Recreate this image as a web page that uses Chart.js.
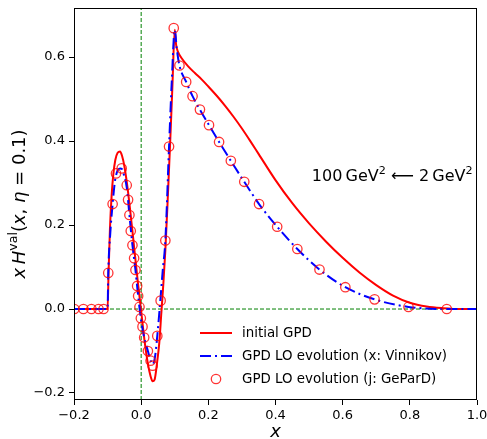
<!DOCTYPE html>
<html>
<head>
<meta charset="utf-8">
<script src="https://cdn.jsdelivr.net/npm/chart.js@4.4.1/dist/chart.umd.min.js"></script>
<style>
  html, body { margin: 0; padding: 0; background: #fff; }
  #wrap { width: 487px; height: 439px; }
</style>
</head>
<body>
<div id="wrap"><canvas id="chart" width="487" height="439"></canvas></div>
<script>
// axis limits and ticks
const xRange = [-0.2, 1.0];
const yRange = [-0.2167, 0.717];
const xTicks = [-0.2, 0.0, 0.2, 0.4, 0.6, 0.8, 1.0];
const yTicks = [-0.2, 0.0, 0.2, 0.4, 0.6];

// initial GPD (red, solid)
const initX = [-0.2, -0.1, -0.097, -0.093, -0.088, -0.083, -0.077, -0.07, -0.063, -0.057, -0.05, -0.04, -0.03,
  -0.02, -0.01, 0.0, 0.01, 0.02, 0.028, 0.034, 0.04, 0.047, 0.054, 0.06, 0.066, 0.072, 0.079, 0.086, 0.093,
  0.1, 0.104, 0.11, 0.12, 0.14, 0.16, 0.18, 0.2, 0.225, 0.25, 0.275, 0.3, 0.325, 0.35, 0.4, 0.45, 0.5, 0.55,
  0.6, 0.65, 0.7, 0.75, 0.8, 0.85, 0.9, 0.95, 1.0];
const initY = [0, 0, 0.09, 0.19, 0.27, 0.32, 0.355, 0.372, 0.375, 0.365, 0.34, 0.285, 0.215,
  0.14, 0.065, -0.005, -0.075, -0.13, -0.16, -0.172, -0.168, -0.13, -0.08, -0.01, 0.06, 0.14, 0.26, 0.39, 0.53,
  0.665, 0.63, 0.612, 0.598, 0.578, 0.562, 0.547, 0.53, 0.508, 0.484, 0.458, 0.43, 0.4, 0.369, 0.307, 0.252, 0.204, 0.161,
  0.122, 0.087, 0.057, 0.032, 0.015, 0.006, 0.002, 0.0, 0.0];

// LO evolution, x-space (blue, dash-dot)
const vinX = [-0.2, -0.1, -0.098, -0.092, -0.085, -0.078, -0.07, -0.063, -0.057, -0.05, -0.043, -0.035, -0.026,
  -0.017, -0.009, -0.001, 0.009, 0.02, 0.028, 0.034, 0.041, 0.048, 0.057, 0.064, 0.072, 0.083, 0.091, 0.1,
  0.106, 0.114, 0.134, 0.153, 0.175, 0.202, 0.232, 0.267, 0.307, 0.351, 0.405, 0.465, 0.531, 0.608, 0.695,
  0.796, 0.91, 1.0];
const vinY = [0, 0, 0.086, 0.18, 0.25, 0.305, 0.33, 0.335, 0.333, 0.315, 0.29, 0.224, 0.152,
  0.093, 0.031, -0.022, -0.068, -0.1, -0.123, -0.132, -0.115, -0.064, 0.02, 0.09, 0.163, 0.387, 0.54, 0.665,
  0.62, 0.58, 0.541, 0.507, 0.475, 0.438, 0.398, 0.353, 0.303, 0.25, 0.196, 0.143, 0.094, 0.052, 0.023,
  0.005, 0.0, 0.0];

// LO evolution, j-space (open circles)
const gepX = [-0.199, -0.172, -0.148, -0.127, -0.112, -0.098, -0.085, -0.075, -0.058, -0.043, -0.039, -0.035,
  -0.031, -0.026, -0.021, -0.017, -0.012, -0.009, -0.005, -0.001, 0.004, 0.009, 0.02, 0.028, 0.034, 0.048,
  0.058, 0.072, 0.083, 0.097, 0.114, 0.134, 0.153, 0.175, 0.202, 0.232, 0.267, 0.307, 0.351, 0.405, 0.465,
  0.531, 0.608, 0.695, 0.796, 0.91];
const gepY = [0, 0, 0, 0, 0, 0.086, 0.25, 0.323, 0.335, 0.295, 0.26, 0.224,
  0.186, 0.152, 0.121, 0.093, 0.055, 0.031, 0.005, -0.022, -0.042, -0.068, -0.1, -0.123, -0.135, -0.064,
  0.02, 0.163, 0.387, 0.669, 0.58, 0.541, 0.507, 0.475, 0.438, 0.398, 0.353, 0.303, 0.25, 0.196, 0.143,
  0.094, 0.052, 0.023, 0.005, 0.0];

const labels = ['initial GPD', 'GPD LO evolution (x: Vinnikov)', 'GPD LO evolution (j: GeParD)'];
const noteAt = { x: 0.987, y: 0.305 }; // right end / baseline of the scale annotation

const FONT = "'DejaVu Sans', sans-serif";
const pts = (xs, ys) => xs.map((v, i) => ({ x: v, y: ys[i] }));

// draw text made of pieces: {t, i: italic, s: superscript}
function richWidth(ctx, parts, size) {
  let w = 0;
  parts.forEach((p) => {
    const sz = p.s ? size * 0.7 : size;
    ctx.font = (p.i ? 'italic ' : '') + sz + 'px ' + FONT;
    w += ctx.measureText(p.t).width;
  });
  return w;
}
function drawRich(ctx, parts, x, y, size, align) {
  const w = richWidth(ctx, parts, size);
  let cx = align === 'right' ? x - w : align === 'center' ? x - w / 2 : x;
  ctx.textAlign = 'left';
  ctx.textBaseline = 'alphabetic';
  parts.forEach((p) => {
    const sz = p.s ? size * 0.7 : size;
    ctx.font = (p.i ? 'italic ' : '') + sz + 'px ' + FONT;
    ctx.fillText(p.t, cx, p.s ? y - size * 0.42 : y);
    cx += ctx.measureText(p.t).width;
  });
}

const decor = {
  id: 'decor',
  afterDraw(chart) {
    const { ctx, chartArea: a, scales } = chart;
    ctx.save();
    // frame on all four sides
    ctx.strokeStyle = '#000';
    ctx.lineWidth = 1;
    ctx.strokeRect(Math.round(a.left) + 0.5, Math.round(a.top) + 0.5,
      Math.round(a.right - a.left) - 1, Math.round(a.bottom - a.top) - 1);

    ctx.fillStyle = '#000';
    // axis titles
    drawRich(ctx, [{ t: 'x', i: 1 }], (a.left + a.right) / 2, 437, 18, 'center');
    ctx.save();
    ctx.translate(25, (a.top + a.bottom) / 2);
    ctx.rotate(-Math.PI / 2);
    drawRich(ctx, [{ t: 'x', i: 1 }, { t: '\u2009' }, { t: 'H', i: 1 }, { t: 'val', s: 1 }, { t: '(' },
      { t: 'x', i: 1 }, { t: ', ' }, { t: '\u03b7', i: 1 }, { t: ' = ' }, { t: '0.1' }, { t: ')' }], 0, 0, 18, 'center');
    ctx.restore();

    // scale annotation
    drawRich(ctx, [{ t: '100' }, { t: '\u2009' }, { t: 'GeV' }, { t: '2', s: 1 }, { t: ' \u27f5 ' },
      { t: '2' }, { t: '\u2009' }, { t: 'GeV' }, { t: '2', s: 1 }],
      scales.x.getPixelForValue(noteAt.x), scales.y.getPixelForValue(noteAt.y), 16, 'right');

    // legend, lower right
    const lx = a.left + 126, rows = [a.bottom - 67, a.bottom - 44, a.bottom - 21];
    chart.data.datasets.filter((d) => d.label).forEach((d, k) => {
      const ry = rows[k];
      ctx.save();
      if (d.showLine === false) {
        ctx.beginPath();
        ctx.strokeStyle = d.borderColor;
        ctx.lineWidth = d.borderWidth;
        ctx.arc(lx + 16, ry, d.pointRadius, 0, Math.PI * 2);
        ctx.stroke();
      } else {
        ctx.beginPath();
        ctx.strokeStyle = d.borderColor;
        ctx.lineWidth = d.borderWidth;
        ctx.setLineDash(d.borderDash || []);
        ctx.moveTo(lx, ry);
        ctx.lineTo(lx + 32, ry);
        ctx.stroke();
      }
      ctx.restore();
      ctx.fillStyle = '#000';
      ctx.font = '13.4px ' + FONT;
      ctx.textAlign = 'left';
      ctx.textBaseline = 'middle';
      ctx.fillText(d.label, lx + 42, ry + 1);
    });
    ctx.restore();
  },
};

const tickFmt = (v) => Number(v).toFixed(1).replace('-', '\u2212');

new Chart(document.getElementById('chart'), {
  type: 'line',
  data: {
    datasets: [
      {
        label: labels[0],
        data: pts(initX, initY),
        borderColor: '#ff0000',
        borderWidth: 2,
        pointRadius: 0,
        cubicInterpolationMode: 'monotone',
        order: 3,
      },
      {
        label: labels[1],
        data: pts(vinX, vinY),
        borderColor: '#0000ff',
        borderWidth: 2,
        borderDash: [11, 4, 2, 4],
        pointRadius: 0,
        cubicInterpolationMode: 'monotone',
        order: 2,
      },
      {
        label: labels[2],
        data: pts(gepX, gepY),
        showLine: false,
        borderColor: 'rgba(255,0,0,0.8)',
        backgroundColor: 'rgba(0,0,0,0)',
        borderWidth: 1.3,
        pointRadius: 4.7,
        pointStyle: 'circle',
        order: 1,
      },
      {
        data: [{ x: xRange[0], y: 0 }, { x: xRange[1], y: 0 }],
        borderColor: '#008000',
        borderWidth: 1,
        borderDash: [4, 2],
        pointRadius: 0,
        order: 4,
      },
      {
        data: [{ x: 0, y: yRange[0] }, { x: 0, y: yRange[1] }],
        borderColor: '#008000',
        borderWidth: 1,
        borderDash: [4, 2],
        pointRadius: 0,
        order: 4,
      },
    ],
  },
  options: {
    responsive: false,
    animation: false,
    devicePixelRatio: 1,
    layout: { padding: { top: 8, right: 10, left: 0, bottom: 0 } },
    plugins: { legend: { display: false }, tooltip: { enabled: false } },
    scales: {
      x: {
        type: 'linear',
        min: xRange[0],
        max: xRange[1],
        afterBuildTicks: (s) => { s.ticks = xTicks.map((v) => ({ value: v })); },
        afterFit: (s) => { s.height = 39; s.paddingLeft = 0; s.paddingRight = 0; },
        grid: { drawOnChartArea: false, drawTicks: true, tickLength: 5, color: '#000' },
        border: { display: false },
        ticks: { callback: tickFmt, maxRotation: 0, padding: 3, color: '#000', font: { family: FONT, size: 13 } },
      },
      y: {
        type: 'linear',
        min: yRange[0],
        max: yRange[1],
        afterBuildTicks: (s) => { s.ticks = yTicks.map((v) => ({ value: v })); },
        afterFit: (s) => { s.width = 74; s.paddingTop = 0; s.paddingBottom = 0; },
        grid: { drawOnChartArea: false, drawTicks: true, tickLength: 5, color: '#000' },
        border: { display: false },
        ticks: { callback: tickFmt, padding: 4, color: '#000', font: { family: FONT, size: 13 } },
      },
    },
  },
  plugins: [decor],
});
</script>
</body>
</html>
